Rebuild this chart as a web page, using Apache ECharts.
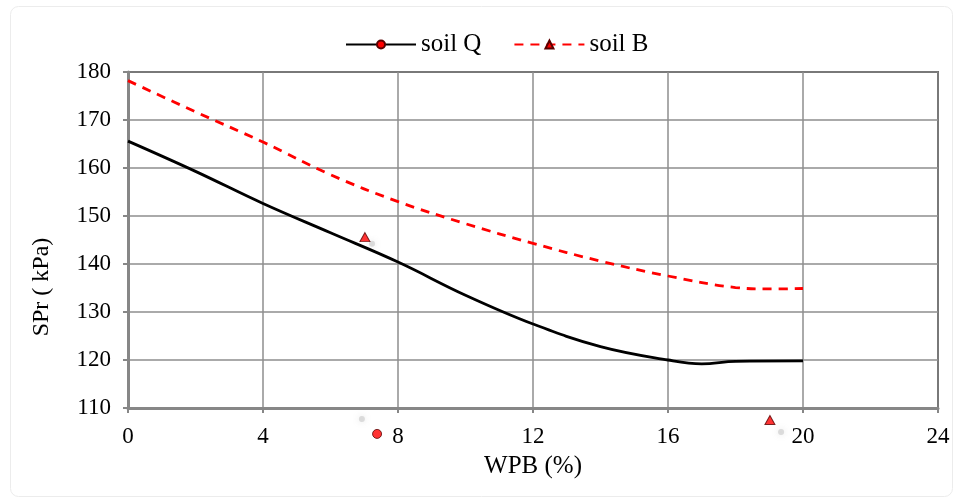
<!DOCTYPE html>
<html>
<head>
<meta charset="utf-8">
<script src="https://cdn.jsdelivr.net/npm/echarts@6/dist/echarts.min.js"></script>
<style>
html,body{margin:0;padding:0;background:#fff;}
#c{width:959px;height:499px;}
</style>
</head>
<body>
<div id="c"></div>
<script>
// Data
const xTicks = [0, 4, 8, 12, 16, 20, 24];
const soilQ_x = [0, 2, 4, 6, 8, 10, 12, 14, 16, 17, 18, 20];
const soilQ_y = [165.6, 159.3, 152.6, 146.5, 140.4, 133.5, 127.5, 122.8, 120.0, 119.2, 119.7, 119.8];
const soilB_x = [0, 2, 4, 6, 8, 10, 12, 14, 16, 18, 19, 20];
const soilB_y = [178.2, 171.7, 165.4, 158.6, 153.0, 148.4, 144.3, 140.6, 137.5, 135.1, 134.8, 134.9];
// stray markers visible in the picture
const strayTriangles = [[7.02, 145.6], [19.02, 107.5]];
const strayCircles = [[7.38, 104.6]];
const strayShadows = [[7.23, 144.2], [6.93, 107.7], [19.35, 105.0]];

const zip = (xs, ys) => xs.map((x, i) => [x, ys[i]]);
const font = '"Liberation Serif", "Times New Roman", serif';

const chart = echarts.init(document.getElementById('c'), null, {renderer: 'canvas'});
chart.setOption({
  animation: false,
  backgroundColor: '#fff',
  graphic: [{
    type: 'rect', left: 8, top: 4, z: -10, silent: true,
    shape: {width: 942, height: 490, r: 8},
    style: {fill: 'none', stroke: '#ececec', lineWidth: 1}
  }, {
    type: 'text', x: 42, y: 287, rotation: Math.PI / 2, z: 10,
    style: {text: 'SPr ( kPa)', font: '24px "Liberation Serif", serif', fill: '#000', align: 'center', verticalAlign: 'middle'}
  }],
  legend: {
    top: 27, left: 340,
    itemWidth: 70, itemHeight: 10, itemGap: 32,
    textStyle: {fontFamily: font, fontSize: 25, color: '#000'},
    data: ['soil Q', 'soil B']
  },
  grid: {
    left: 128, right: 21, top: 72, bottom: 91,
    show: true, borderColor: '#000', borderWidth: 1.5, backgroundColor: 'transparent'
  },
  xAxis: {
    type: 'value', min: 0, max: 24, interval: 4,
    name: 'WPB (%)', nameLocation: 'middle', nameGap: 46,
    nameTextStyle: {fontFamily: font, fontSize: 25, color: '#000'},
    axisLine: {show: true, onZero: false, lineStyle: {color: '#878787', width: 3}},
    axisTick: {show: true, inside: false, length: 5, lineStyle: {color: '#878787', width: 2}},
    axisLabel: {fontFamily: font, fontSize: 23, color: '#000', margin: 17},
    splitLine: {show: true, lineStyle: {color: '#8e8e8e', width: 1.5}}
  },
  yAxis: {
    type: 'value', min: 110, max: 180, interval: 10,
    axisLine: {show: true, onZero: false, lineStyle: {color: '#878787', width: 3}},
    axisTick: {show: true, inside: false, length: 5, lineStyle: {color: '#878787', width: 2}},
    axisLabel: {fontFamily: font, fontSize: 23, color: '#000', margin: 17},
    splitLine: {show: true, lineStyle: {color: '#8e8e8e', width: 1.5}}
  },
  series: [
    {
      name: 'soil Q', type: 'line', data: zip(soilQ_x, soilQ_y),
      smooth: 0.4, showSymbol: false, symbol: 'circle', symbolSize: 9,
      lineStyle: {color: '#000', width: 2.8},
      itemStyle: {color: '#ff0000', borderColor: '#5a0000', borderWidth: 1},
      z: 5
    },
    {
      name: 'soil B', type: 'line', data: zip(soilB_x, soilB_y),
      smooth: 0.4, showSymbol: false, symbol: 'triangle', symbolSize: [10, 9],
      lineStyle: {color: '#ff0000', width: 2.8, type: [9, 7]},
      itemStyle: {color: '#ff0000', borderColor: '#5a0000', borderWidth: 1},
      z: 5
    },
    {
      type: 'scatter', data: strayShadows, clip: false, silent: true,
      symbol: 'circle', symbolSize: 6,
      itemStyle: {color: 'rgba(170,170,170,0.45)', shadowColor: 'rgba(150,150,150,0.7)', shadowBlur: 6},
      z: 3
    },
    {
      type: 'scatter', data: strayTriangles, clip: false, silent: true,
      symbol: 'triangle', symbolSize: [10, 9],
      itemStyle: {color: '#ff0000', borderColor: '#5a0000', borderWidth: 1},
      z: 6
    },
    {
      type: 'scatter', data: strayCircles, clip: false, silent: true,
      symbol: 'circle', symbolSize: 9,
      itemStyle: {color: '#ff0000', borderColor: '#5a0000', borderWidth: 1},
      z: 6
    }
  ]
});
</script>
</body>
</html>
